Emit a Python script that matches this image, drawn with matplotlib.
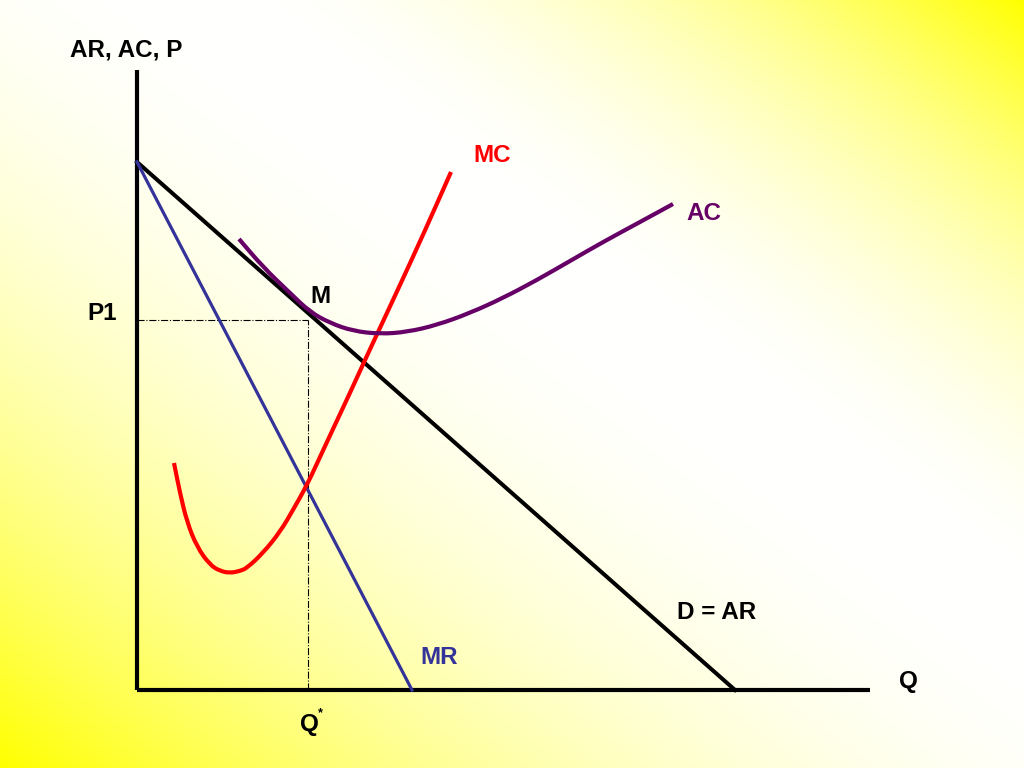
import numpy as np
import matplotlib
matplotlib.use("Agg")
import matplotlib.pyplot as plt
from matplotlib.path import Path
from matplotlib.patches import PathPatch

# ---- data (quantity Q, price P in chart units) ----
demand_q = [0.0, 59.8]
demand_p = [52.8, 0.0]

mr_q = [0.0, 27.5]
mr_p = [52.8, 0.0]

mc_q = [3.7, 4.3, 5.0, 6.0, 7.3, 8.3, 9.3, 10.3, 11.0, 12.6, 14.3, 15.6, 17.0,
        18.3, 19.6, 21.2, 22.8, 24.2, 26.3, 28.6, 31.4]
mc_p = [22.7, 19.7, 16.8, 14.3, 12.5, 11.9, 11.7, 11.9, 12.2, 13.7, 15.8, 18.0, 20.5,
        23.3, 26.1, 29.5, 33.0, 36.0, 40.5, 45.5, 51.8]

ac_q = [10.2, 12.6, 15.3, 17.3, 19.3, 21.6, 24.3, 27.0, 30.0, 33.3, 36.6, 40.0,
        43.3, 46.6, 50.3, 53.6]
ac_p = [45.1, 42.3, 39.7, 37.8, 36.7, 35.9, 35.6, 35.8, 36.5, 37.7, 39.2, 41.0,
        42.9, 44.8, 46.8, 48.6]

p1 = 37.0
q_star = 17.1
axis_q_max = 73.3
axis_p_max = 62.0

# ---- figure ----
fig = plt.figure(figsize=(10.24, 7.68), dpi=100)
ax = fig.add_axes([0, 0, 1, 1])
xmin, xmax = -13.7, 88.7
ymin, ymax = -7.8, 69.0
ax.set_xlim(xmin, xmax)
ax.set_ylim(ymin, ymax)
ax.axis("off")

# background gradient: yellow at top-right and bottom-left corners, white band in between
H, W = 384, 512
u = np.linspace(0, 1, W)[None, :]
v = np.linspace(0, 1, H)[:, None]
s = v - u
s0 = -0.2
yel = np.where(s > s0, (s - s0) / (1 - s0), (s0 - s) / (1 + s0))
yel = np.clip(yel, 0, 1) ** 2.0
blue = 1 - yel
img = np.dstack([np.ones_like(blue), np.ones_like(blue), blue])
ax.imshow(img, extent=[xmin, xmax, ymin, ymax], origin="upper", aspect="auto", zorder=0)


def smooth_path(xs, ys):
    pts = np.column_stack([xs, ys])
    verts = [pts[0]]
    codes = [Path.MOVETO]
    mids = (pts[:-1] + pts[1:]) / 2
    verts.append(mids[0]); codes.append(Path.LINETO)
    for i in range(1, len(pts) - 1):
        verts.append(pts[i]); codes.append(Path.CURVE3)
        verts.append(mids[i]); codes.append(Path.CURVE3)
    verts.append(pts[-1]); codes.append(Path.LINETO)
    return Path(verts, codes)


lw_axis = 3.0
# axes lines
ax.plot([0, 0], [0, axis_p_max], color="black", lw=lw_axis, solid_capstyle="butt", zorder=3)
ax.plot([0, axis_q_max], [0, 0], color="black", lw=lw_axis, solid_capstyle="butt", zorder=3)

# guide lines
ax.plot([0, q_star], [p1, p1], color="black", lw=0.8, ls="-.", zorder=2)
ax.plot([q_star, q_star], [0, p1], color="black", lw=0.8, ls="-.", zorder=2)

# curves
ax.plot(demand_q, demand_p, color="black", lw=2.9, zorder=4)
ax.plot(mr_q, mr_p, color="#333399", lw=2.3, zorder=4)
ax.add_patch(PathPatch(smooth_path(mc_q, mc_p), facecolor="none", edgecolor="#ff0000",
                       lw=3.0, capstyle="butt", zorder=5))
ax.add_patch(PathPatch(smooth_path(ac_q, ac_p), facecolor="none", edgecolor="#660066",
                       lw=3.0, capstyle="butt", zorder=5))

font = dict(family=["Liberation Sans", "DejaVu Sans"], weight="bold", fontsize=17.5)

ax.text(-6.7, 63.3, "AR, AC, P", color="black", ha="left", va="baseline", **font)
ax.text(33.6, 52.8, "MC", color="#ff0000", ha="left", va="baseline", **font)
ax.text(54.9, 47.0, "AC", color="#660066", ha="left", va="baseline", **font)
ax.text(17.3, 38.7, "M", color="black", ha="left", va="baseline", **font)
ax.text(-5.0, 37.0, "P1", color="black", ha="left", va="baseline", **font)
ax.text(54.0, 7.1, "D = AR", color="black", ha="left", va="baseline", **font)
ax.text(76.2, 0.2, "Q", color="black", ha="left", va="baseline", **font)
ax.text(28.3, 2.6, "MR", color="#333399", ha="left", va="baseline", **font)
ax.text(16.3, -4.1, "Q", color="black", ha="left", va="baseline", **font)
ax.text(18.1, -2.6, "*", color="black", ha="left", va="baseline",
        family=["Liberation Sans", "DejaVu Sans"], weight="bold", fontsize=9)

fig.savefig("out.png", dpi=100)
